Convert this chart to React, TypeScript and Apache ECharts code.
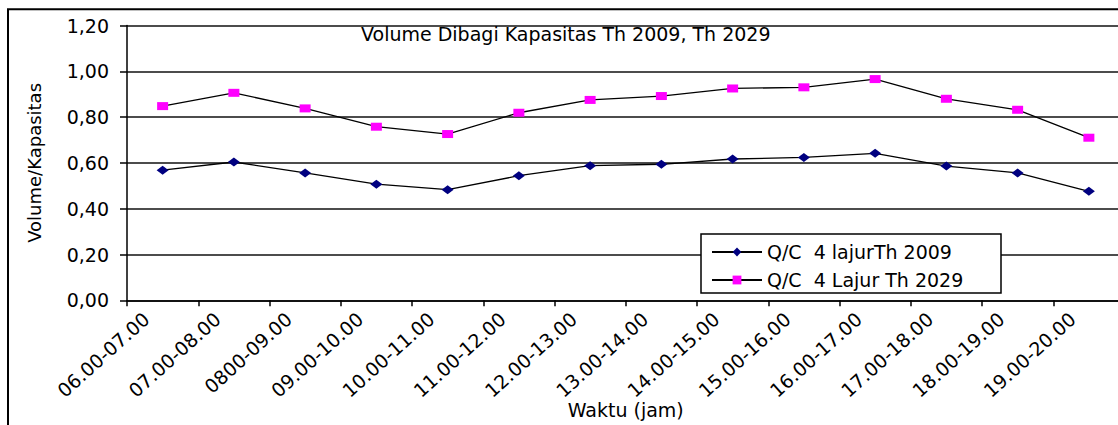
import React, { useEffect, useRef } from "react";
import * as echarts from "echarts";

const categories = [
  "06.00-07.00",
  "07.00-08.00",
  "0800-09.00",
  "09.00-10.00",
  "10.00-11.00",
  "11.00-12.00",
  "12.00-13.00",
  "13.00-14.00",
  "14.00-15.00",
  "15.00-16.00",
  "16.00-17.00",
  "17.00-18.00",
  "18.00-19.00",
  "19.00-20.00",
];

const qc2009 = [0.568, 0.604, 0.556, 0.507, 0.483, 0.544, 0.588, 0.594, 0.617, 0.624, 0.642, 0.586, 0.556, 0.476];
const qc2029 = [0.848, 0.906, 0.838, 0.758, 0.726, 0.819, 0.875, 0.892, 0.925, 0.93, 0.966, 0.88, 0.832, 0.71];

const yTickLabels = ["0,00", "0,20", "0,40", "0,60", "0,80", "1,00", "1,20"];

const seriesNames = ["Q/C  4 lajurTh 2009", "Q/C  4 Lajur Th 2029"];
const titleText = "Volume Dibagi Kapasitas Th 2009, Th 2029";
const xAxisName = "Waktu (jam)";
const yAxisName = "Volume/Kapasitas";

const FONT = "DejaVu Sans";

export default function App() {
  const ref = useRef<HTMLDivElement>(null);

  useEffect(() => {
    if (!ref.current) return;
    const chart = echarts.init(ref.current, null, { renderer: "svg" });
    chart.setOption({
      animation: false,
      backgroundColor: "#fff",
      textStyle: { fontFamily: FONT, color: "#000" },
      title: {
        text: titleText,
        left: 361,
        top: 24,
        padding: 0,
        textStyle: { fontFamily: FONT, fontSize: 19, fontWeight: "normal", color: "#000", lineHeight: 20 },
      },
      legend: {
        orient: "vertical",
        left: 701,
        top: 234,
        padding: [8, 6, 3, 10],
        itemGap: 8,
        itemWidth: 50,
        itemHeight: 11,
        borderColor: "#000",
        borderWidth: 1.5,
        borderRadius: 0,
        backgroundColor: "#fff",
        textStyle: { fontFamily: FONT, fontSize: 19, color: "#000", lineHeight: 20, width: 228 },
        data: seriesNames,
      },
      grid: {
        left: 127,
        right: -6.5,
        top: 25.5,
        bottom: 124.7,
        containLabel: false,
        outerBoundsMode: "none",
      },
      xAxis: {
        type: "category",
        data: categories,
        boundaryGap: true,
        name: xAxisName,
        nameLocation: "middle",
        nameGap: 100,
        nameMoveOverlap: false,
        nameTextStyle: { fontFamily: FONT, fontSize: 19, color: "#000" },
        axisLine: { show: true, lineStyle: { color: "#000", width: 1.5 } },
        axisTick: { show: true, length: 6, inside: false, alignWithLabel: false, interval: 0, lineStyle: { color: "#000", width: 1.5 } },
        axisLabel: {
          interval: 0,
          rotate: 42,
          margin: 1,
          padding: [0, 22, 0, 0],
          fontFamily: FONT,
          fontSize: 19,
          color: "#000",
        },
        splitLine: { show: false },
      },
      yAxis: {
        type: "value",
        min: 0,
        max: 1.2,
        interval: 0.2,
        name: yAxisName,
        nameLocation: "middle",
        nameGap: 84,
        nameRotate: 90,
        nameMoveOverlap: false,
        nameTextStyle: { fontFamily: FONT, fontSize: 18, color: "#000" },
        axisLine: { show: true, lineStyle: { color: "#000", width: 1.5 } },
        axisTick: { show: true, length: 7, inside: false, lineStyle: { color: "#000", width: 1.5 } },
        axisLabel: {
          margin: 18,
          fontFamily: FONT,
          fontSize: 19,
          color: "#000",
          formatter: (v: number) => yTickLabels[Math.round(v / 0.2)] ?? "",
        },
        splitLine: { show: true, lineStyle: { color: "#111", width: 1.5 } },
      },
      graphic: [
        {
          type: "rect",
          silent: true,
          z: 100,
          shape: { x: 8, y: 9.3, width: 2000, height: 2000 },
          style: { fill: "none", stroke: "#000", lineWidth: 2 },
        },
      ],
      series: [
        {
          name: seriesNames[0],
          type: "line",
          data: qc2009,
          symbol: "diamond",
          symbolSize: [12, 9],
          showAllSymbol: true,
          itemStyle: { color: "#000080" },
          lineStyle: { color: "#000", width: 1.3 },
          z: 3,
        },
        {
          name: seriesNames[1],
          type: "line",
          data: qc2029,
          symbol: "rect",
          symbolSize: [11, 8],
          showAllSymbol: true,
          itemStyle: { color: "#FF00FF" },
          lineStyle: { color: "#000", width: 1.3 },
          z: 3,
        },
      ],
    });
    return () => chart.dispose();
  }, []);

  return (
    <div
      ref={ref}
      style={{ position: "absolute", left: 0, top: 0, width: 1118, height: 425 }}
    />
  );
}
